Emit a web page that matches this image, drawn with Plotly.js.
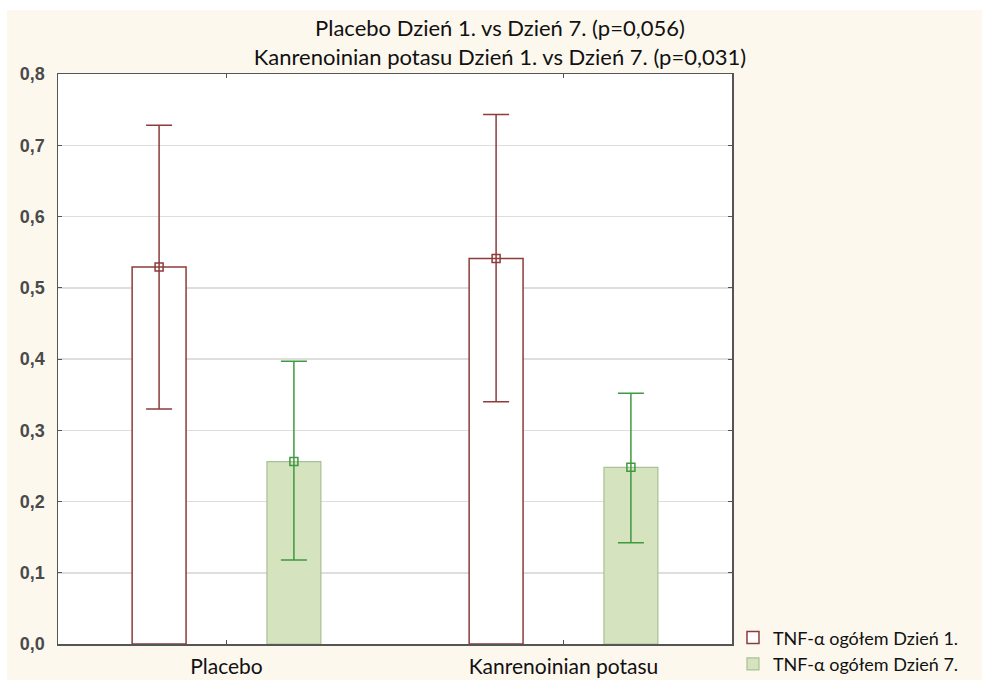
<!DOCTYPE html>
<html>
<head>
<meta charset="utf-8">
<script src="https://cdn.plot.ly/plotly-3.0.1.min.js"></script>
<style>
  html, body { margin: 0; padding: 0; background: #ffffff; }
  #chart { position: absolute; left: 7px; top: 10px; width: 975px; height: 670px; }
</style>
</head>
<body>
<div id="chart"></div>
<script>
// ---- data ----
const categories = ['Placebo', 'Kanrenoinian potasu'];
const seriesNames = ['TNF-\u03b1 og\u00f3\u0142em Dzie\u0144 1.', 'TNF-\u03b1 og\u00f3\u0142em Dzie\u0144 7.'];
const day1Mean  = [0.529, 0.541];
const day1Upper = [0.728, 0.743];
const day1Lower = [0.330, 0.340];
const day7Mean  = [0.256, 0.248];
const day7Upper = [0.397, 0.352];
const day7Lower = [0.118, 0.142];
const yTicks = [0, 0.1, 0.2, 0.3, 0.4, 0.5, 0.6, 0.7, 0.8];
const titleLines = ['Placebo Dzie\u0144 1. vs Dzie\u0144 7. (p=0,056)',
                    'Kanrenoinian potasu Dzie\u0144 1. vs Dzie\u0144 7. (p=0,031)'];

// ---- styles ----
const red = '#8E3B3B';
const green = '#3E9A3E';
const FONT = 'Lato, "Open Sans", sans-serif';
const TICKFONT = '"Liberation Sans", Arial, sans-serif';

function plus(mean, upper) { return mean.map((m, i) => upper[i] - m); }
function minus(mean, lower) { return mean.map((m, i) => m - lower[i]); }

const traces = [
  { type: 'bar', name: seriesNames[0], x: categories, y: day1Mean,
    marker: { color: '#ffffff', line: { color: red, width: 1.5 } }, hoverinfo: 'y' },
  { type: 'bar', name: seriesNames[1], x: categories, y: day7Mean,
    marker: { color: '#D5E3BF', line: { color: '#A9C194', width: 1.2 } }, hoverinfo: 'y' },
  { type: 'scatter', mode: 'markers', showlegend: false, x: categories, y: day1Mean,
    marker: { symbol: 'square-open', size: 8, color: red, line: { width: 1.5, color: red } },
    error_y: { type: 'data', symmetric: false, array: plus(day1Mean, day1Upper),
               arrayminus: minus(day1Mean, day1Lower), color: red, thickness: 1.5, width: 13 } },
  { type: 'scatter', mode: 'markers', showlegend: false, x: categories, y: day7Mean,
    marker: { symbol: 'square-open', size: 8, color: green, line: { width: 1.5, color: green } },
    error_y: { type: 'data', symmetric: false, array: plus(day7Mean, day7Upper),
               arrayminus: minus(day7Mean, day7Lower), color: green, thickness: 1.5, width: 13 } }
];

const layout = {
  width: 975, height: 670,
  paper_bgcolor: '#FDF8EE', plot_bgcolor: '#ffffff',
  separators: ', ',
  margin: { l: 51, r: 250, t: 64, b: 36 },
  barmode: 'group', bargap: 0.2, bargroupgap: 0.6,
  scattermode: 'group', scattergap: 0.2,
  font: { family: FONT, color: '#000' },
  title: { text: titleLines.join('<br>'), x: 0.5056, xref: 'container', xanchor: 'center',
           y: 0.9605, yref: 'container', yanchor: 'middle',
           font: { family: FONT, size: 22, color: '#111' } },
  xaxis: { type: 'category', range: [-0.5, 1.5],
           showline: true, linecolor: '#555', linewidth: 1.5, mirror: 'ticks',
           ticks: 'inside', ticklen: 4, tickcolor: '#555',
           showgrid: false, zeroline: false, ticklabelstandoff: 3,
           tickfont: { family: FONT, size: 21, color: '#111' } },
  yaxis: { range: [0, 0.8], tickvals: yTicks, tickformat: '.1f',
           showline: true, linecolor: '#555', linewidth: 1.5, mirror: 'ticks',
           ticks: 'inside', ticklen: 4, tickcolor: '#555',
           showgrid: true, gridcolor: '#DEDEDE', gridwidth: 1.5, zeroline: false,
           ticklabelstandoff: 8,
           tickfont: { family: TICKFONT, size: 18, color: '#4A4A4A', weight: 'bold' } },
  legend: { x: 0.7446, xref: 'container', xanchor: 'left',
            y: 0.0906, yref: 'container', yanchor: 'top',
            bgcolor: 'rgba(0,0,0,0)', itemwidth: 30, tracegroupgap: 0,
            font: { family: FONT, size: 18, color: '#111' } },
  showlegend: true
};

Plotly.newPlot('chart', traces, layout, { displayModeBar: false, staticPlot: true });
</script>
</body>
</html>
